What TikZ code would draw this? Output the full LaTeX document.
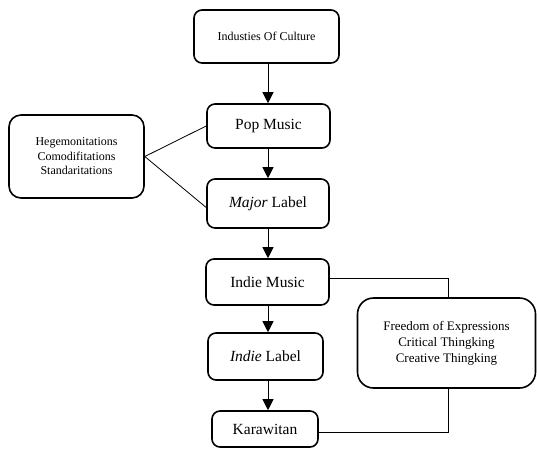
\documentclass[tikz,border=0pt]{standalone}
\usepackage{fontspec}
\setmainfont{Liberation Serif}
\usetikzlibrary{arrows.meta}
\begin{document}
\begin{tikzpicture}[x=1pt,y=-1pt,
  box/.style={draw,line width=1.6pt,rounded corners=8pt,inner sep=0pt,align=center,font=\fontsize{15.5}{18}\selectfont},
  smallbox/.style={box,font=\fontsize{12}{14.5}\selectfont},
  bigbox/.style={box,rounded corners=16pt,font=\fontsize{13}{16}\selectfont},
  link/.style={line width=0.8pt},
  arr/.style={line width=1pt,-{Triangle[width=11pt,length=11pt]}}]
\useasboundingbox (0,0) rectangle (537,448);
\node[smallbox,minimum width=145pt,minimum height=53pt] (ind) at (266.5,36.5) {Industies Of Culture};
\node[box,minimum width=123pt,minimum height=44pt] (pop) at (268.5,126) {Pop Music};
\node[box,minimum width=122pt,minimum height=49pt] (maj) at (268,203.5) {\textit{Major} Label};
\node[box,minimum width=123pt,minimum height=46pt] (im) at (267.5,282) {Indie Music};
\node[box,minimum width=115pt,minimum height=47pt] (il) at (265.5,356.5) {\textit{Indie} Label};
\node[box,minimum width=106pt,minimum height=36pt] (kar) at (265,429) {Karawitan};
\node[smallbox,rounded corners=12pt,minimum width=135pt,minimum height=83pt] (heg) at (76.5,156.5) {Hegemonitations\\Comodifitations\\Standaritations};
\node[bigbox,minimum width=178pt,minimum height=90pt] (free) at (446.5,343) {Freedom of Expressions\\Critical Thingking\\Creative Thingking};
\coordinate (ax) at (268,0);
\coordinate (rx) at (448,0);
\draw[arr] (ind.south -| ax) -- (pop.north -| ax);
\draw[arr] (pop.south -| ax) -- (maj.north -| ax);
\draw[arr] (maj.south -| ax) -- (im.north -| ax);
\draw[arr] (im.south -| ax) -- (il.north -| ax);
\draw[arr] (il.south -| ax) -- (kar.north -| ax);
\draw[link] (heg.east) -- (pop.west);
\draw[link] (heg.east) -- ([yshift=-4pt]maj.west);
\draw[link] ([yshift=4pt]im.east) -| (free.north -| rx);
\draw[link] (free.south -| rx) |- ([yshift=-3pt]kar.east);
\end{tikzpicture}
\end{document}
